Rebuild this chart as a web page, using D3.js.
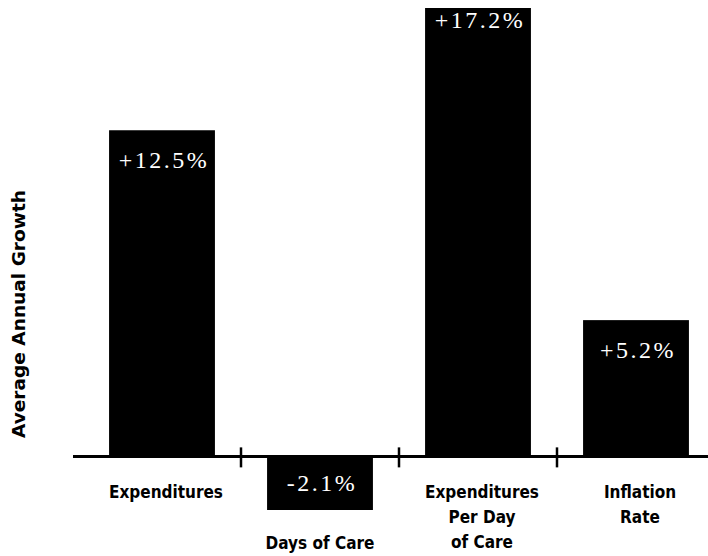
<!DOCTYPE html>
<html lang="en">
<head>
    <meta charset="UTF-8">
    <script src="https://d3js.org/d3.v7.min.js"></script>
    <title>Average Annual Growth</title>
    <style>
        body { margin: 0; background: #fff; }
        .cat { font-family: "DejaVu Sans Condensed", "DejaVu Sans", sans-serif; font-stretch: condensed; font-weight: bold; font-size: 17px; fill: #000; }
        .val { font-family: "Liberation Serif", "DejaVu Serif", serif; font-size: 24px; fill: #fff; }
    </style>
</head>
<body>
<div id="draw_here"></div>

<script type="text/javascript">

    var width = 708;
    var height = 556;

    // data
    var categories = ["Expenditures", "Days of Care", "Expenditures Per Day of Care", "Inflation Rate"];
    var labelLines = [["Expenditures"], ["Days of Care"], ["Expenditures", "Per Day", "of Care"], ["Inflation", "Rate"]];
    var growth = [12.5, -2.1, 17.2, 5.2];
    var valueLabels = ["+12.5%", "-2.1%", "+17.2%", "+5.2%"];

    var data = categories.map((c, i) => ({name: c, lines: labelLines[i], value: growth[i], label: valueLabels[i]}));

    var x = d3.scaleBand()
        .domain(categories)
        .range([83, 715])
        .paddingInner(0.33)
        .paddingOuter(0.165);

    var y = d3.scaleLinear()
        .domain([-2.1, 17.2])
        .range([510, 8]);

    var svg = d3.select("#draw_here")
        .append("svg")
        .attr("width", width)
        .attr("height", height);

    // bars
    svg.append("g")
        .attr("fill", "#000")
        .selectAll("rect")
        .data(data)
        .join("rect")
        .attr("x", d => x(d.name))
        .attr("y", d => y(Math.max(0, d.value)))
        .attr("width", x.bandwidth())
        .attr("height", d => Math.abs(y(d.value) - y(0)));

    // baseline with ticks between categories
    var axis = svg.append("g");
    axis.append("line")
        .attr("x1", 73).attr("x2", width)
        .attr("y1", y(0) + 1).attr("y2", y(0) + 1)
        .attr("stroke", "#000")
        .attr("stroke-width", 3);

    var step = x.step();
    axis.selectAll(".tick")
        .data(categories.slice(0, -1))
        .join("line")
        .attr("class", "tick")
        .attr("x1", d => x(d) + x.bandwidth() + (step - x.bandwidth()) / 2)
        .attr("x2", d => x(d) + x.bandwidth() + (step - x.bandwidth()) / 2)
        .attr("y1", y(0) - 8)
        .attr("y2", y(0) + 12)
        .attr("stroke", "#000")
        .attr("stroke-width", 2.5);

    // value labels inside bars
    svg.append("g")
        .selectAll("text")
        .data(data)
        .join("text")
        .attr("class", "val")
        .attr("text-anchor", "middle")
        .attr("letter-spacing", "2.5px")
        .attr("x", d => x(d.name) + x.bandwidth() / 2 + 2)
        .attr("y", d => d.value < 0 ? (y(0) + y(d.value)) / 2 + 8 : y(d.value) + (d.value > 15 ? 20 : 38))
        .text(d => d.label);

    // category labels
    var catG = svg.append("g")
        .selectAll("text")
        .data(data)
        .join("text")
        .attr("class", "cat")
        .attr("text-anchor", "middle")
        .attr("y", d => d.value < 0 ? 549 : 498);

    catG.selectAll("tspan")
        .data(d => d.lines.map(l => ({l: l, x: x(d.name) + x.bandwidth() / 2 + (d.value < 0 ? 0 : 4)})))
        .join("tspan")
        .attr("x", t => t.x)
        .attr("dy", (t, i) => i === 0 ? 0 : 25)
        .text(t => t.l);

    // y axis title
    svg.append("text")
        .attr("class", "cat")
        .attr("transform", "translate(25,314) rotate(-90)")
        .attr("text-anchor", "middle")
        .attr("font-size", "18px")
        .attr("textLength", 248)
        .attr("lengthAdjust", "spacingAndGlyphs")
        .text("Average Annual Growth");

</script>

</body>
</html>
